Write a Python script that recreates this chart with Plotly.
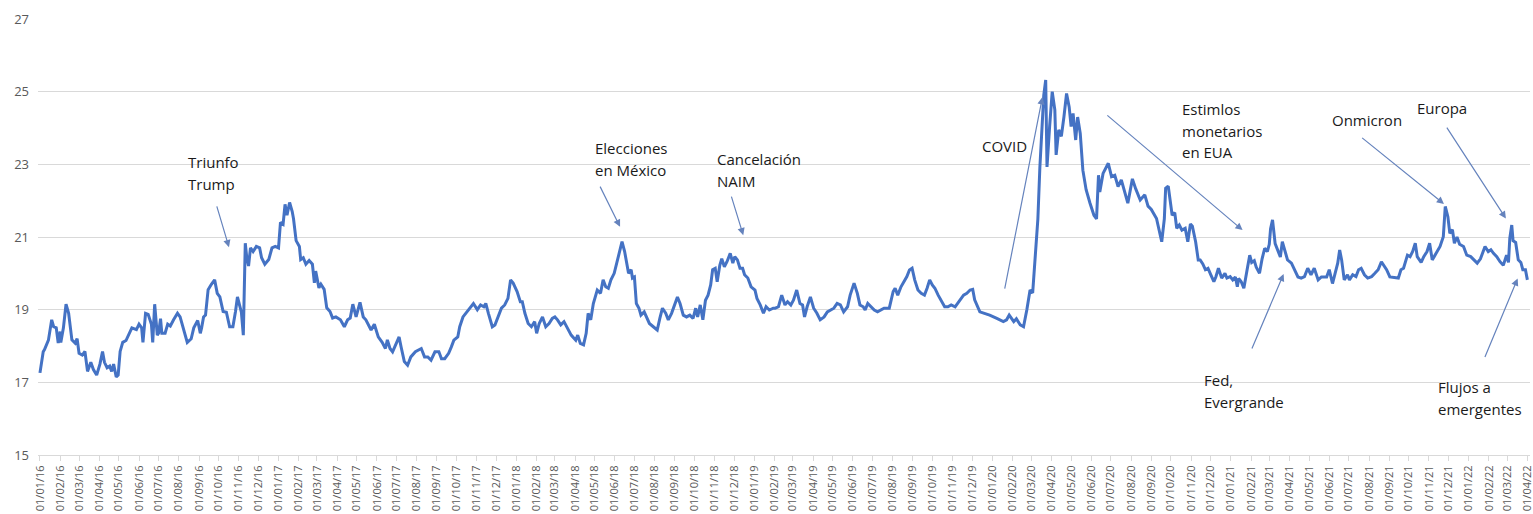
import plotly.graph_objects as go

# ---------------- data (USD/MXN) ----------------
dates = [
    "2016-01-01","2016-01-06","2016-01-08","2016-01-14","2016-01-19","2016-01-22","2016-01-26","2016-01-29",
    "2016-02-01","2016-02-02","2016-02-06","2016-02-10","2016-02-14","2016-02-16","2016-02-19","2016-02-24","2016-02-27",
    "2016-03-01","2016-03-06","2016-03-10","2016-03-14","2016-03-19","2016-03-23","2016-03-28",
    "2016-04-02","2016-04-06","2016-04-09","2016-04-13","2016-04-17","2016-04-20","2016-04-23","2016-04-27","2016-04-30",
    "2016-05-03","2016-05-07","2016-05-12","2016-05-17","2016-05-21","2016-05-28",
    "2016-06-01","2016-06-05","2016-06-07","2016-06-11","2016-06-15","2016-06-20","2016-06-22","2016-06-25","2016-06-29",
    "2016-07-01","2016-07-04","2016-07-06","2016-07-11","2016-07-15","2016-07-19","2016-07-24","2016-07-30",
    "2016-08-03","2016-08-08","2016-08-14","2016-08-20","2016-08-24","2016-08-30",
    "2016-09-03","2016-09-05","2016-09-08","2016-09-11","2016-09-15","2016-09-20","2016-09-25","2016-09-29",
    "2016-10-03","2016-10-08","2016-10-13","2016-10-18","2016-10-23","2016-10-27","2016-10-30",
    "2016-11-05","2016-11-08","2016-11-11","2016-11-13","2016-11-16","2016-11-19","2016-11-23","2016-11-28",
    "2016-12-03","2016-12-06","2016-12-11","2016-12-17","2016-12-22","2016-12-27",
    "2017-01-01","2017-01-04","2017-01-08","2017-01-11","2017-01-14","2017-01-18","2017-01-22","2017-01-24","2017-01-28",
    "2017-02-02","2017-02-04","2017-02-08","2017-02-12","2017-02-17","2017-02-22","2017-02-25","2017-02-27",
    "2017-03-04","2017-03-07","2017-03-12","2017-03-16","2017-03-21","2017-03-25","2017-03-30",
    "2017-04-06","2017-04-12","2017-04-17","2017-04-21","2017-04-25","2017-04-30",
    "2017-05-06","2017-05-11","2017-05-15","2017-05-23","2017-05-28",
    "2017-06-03","2017-06-09","2017-06-14","2017-06-17","2017-06-21","2017-06-25","2017-06-30",
    "2017-07-05","2017-07-08","2017-07-13","2017-07-18","2017-07-23","2017-07-30",
    "2017-08-08","2017-08-13","2017-08-18","2017-08-23","2017-08-29",
    "2017-09-04","2017-09-08","2017-09-13","2017-09-19","2017-09-23","2017-09-27",
    "2017-10-03","2017-10-06","2017-10-11","2017-10-17","2017-10-22","2017-10-27",
    "2017-11-02","2017-11-07","2017-11-12","2017-11-15","2017-11-19","2017-11-25","2017-11-29",
    "2017-12-04","2017-12-09","2017-12-14","2017-12-19","2017-12-23","2017-12-27",
    "2018-01-02","2018-01-07","2018-01-10","2018-01-14","2018-01-19","2018-01-24","2018-01-29",
    "2018-02-01","2018-02-05","2018-02-10","2018-02-15","2018-02-20","2018-02-25",
    "2018-03-01","2018-03-05","2018-03-10","2018-03-15","2018-03-20","2018-03-26",
    "2018-04-02","2018-04-05","2018-04-09","2018-04-14","2018-04-18","2018-04-21","2018-04-25","2018-04-29",
    "2018-05-05","2018-05-10","2018-05-14","2018-05-18","2018-05-22","2018-05-26","2018-05-31",
    "2018-06-06","2018-06-09","2018-06-12","2018-06-16","2018-06-18","2018-06-22","2018-06-26","2018-06-28",
    "2018-07-01","2018-07-04","2018-07-08","2018-07-11","2018-07-16","2018-07-20","2018-07-24","2018-07-30",
    "2018-08-05","2018-08-09","2018-08-13","2018-08-18","2018-08-22","2018-08-27",
    "2018-09-02","2018-09-05","2018-09-09","2018-09-14","2018-09-19","2018-09-24","2018-09-29",
    "2018-10-03","2018-10-06","2018-10-10","2018-10-14","2018-10-18","2018-10-22","2018-10-26","2018-10-29",
    "2018-11-02","2018-11-05","2018-11-09","2018-11-12","2018-11-16","2018-11-20","2018-11-25","2018-11-29",
    "2018-12-02","2018-12-06","2018-12-10","2018-12-14","2018-12-17","2018-12-22","2018-12-27",
    "2019-01-02","2019-01-05","2019-01-10","2019-01-15","2019-01-19","2019-01-24","2019-01-30",
    "2019-02-02","2019-02-07","2019-02-12","2019-02-17","2019-02-21","2019-02-26",
    "2019-03-02","2019-03-07","2019-03-12","2019-03-16","2019-03-19","2019-03-23","2019-03-28",
    "2019-04-02","2019-04-07","2019-04-12","2019-04-18","2019-04-23","2019-04-28",
    "2019-05-03","2019-05-08","2019-05-13","2019-05-18","2019-05-24","2019-05-28",
    "2019-06-03","2019-06-08","2019-06-12","2019-06-17","2019-06-20","2019-06-24","2019-06-29",
    "2019-07-04","2019-07-09","2019-07-14","2019-07-19","2019-07-27",
    "2019-08-02","2019-08-05","2019-08-09","2019-08-14","2019-08-19","2019-08-23","2019-08-27","2019-08-31",
    "2019-09-04","2019-09-09","2019-09-14","2019-09-19","2019-09-23","2019-09-27",
    "2019-10-01","2019-10-05","2019-10-10","2019-10-15","2019-10-20","2019-10-25","2019-10-30",
    "2019-11-05","2019-11-11","2019-11-18","2019-11-23","2019-11-28",
    "2019-12-02","2019-12-05","2019-12-13","2019-12-21","2019-12-28",
    "2020-01-08","2020-01-18","2020-01-23","2020-01-27",
    "2020-02-03","2020-02-07","2020-02-13","2020-02-18","2020-02-23","2020-02-28",
    "2020-03-03","2020-03-06","2020-03-11","2020-03-14","2020-03-18","2020-03-20","2020-03-23","2020-03-25","2020-03-29",
    "2020-04-02","2020-04-06","2020-04-08","2020-04-12","2020-04-16","2020-04-20","2020-04-24","2020-04-28",
    "2020-05-01","2020-05-04","2020-05-08","2020-05-11","2020-05-15","2020-05-19","2020-05-24","2020-05-30",
    "2020-06-05","2020-06-09","2020-06-12","2020-06-14","2020-06-19","2020-06-27",
    "2020-07-02","2020-07-07","2020-07-12","2020-07-17","2020-07-22","2020-07-27",
    "2020-08-03","2020-08-08","2020-08-15","2020-08-22","2020-08-27",
    "2020-09-01","2020-09-09","2020-09-12","2020-09-17","2020-09-21","2020-09-23","2020-09-27","2020-09-30",
    "2020-10-03","2020-10-07","2020-10-10","2020-10-14","2020-10-18","2020-10-23","2020-10-27","2020-10-31",
    "2020-11-03","2020-11-08","2020-11-12","2020-11-15","2020-11-19","2020-11-23","2020-11-27",
    "2020-12-01","2020-12-06","2020-12-09","2020-12-13","2020-12-18","2020-12-23","2020-12-26","2020-12-31",
    "2021-01-04","2021-01-08","2021-01-11","2021-01-13","2021-01-17","2021-01-21","2021-01-26","2021-01-30",
    "2021-02-02","2021-02-06","2021-02-09","2021-02-14","2021-02-18","2021-02-22","2021-02-26",
    "2021-03-01","2021-03-03","2021-03-06","2021-03-10","2021-03-14","2021-03-18","2021-03-21","2021-03-25","2021-03-29",
    "2021-04-04","2021-04-09","2021-04-14","2021-04-19","2021-04-24","2021-04-29",
    "2021-05-04","2021-05-09","2021-05-15","2021-05-20","2021-05-28",
    "2021-06-01","2021-06-06","2021-06-10","2021-06-14","2021-06-17","2021-06-20","2021-06-24","2021-06-29",
    "2021-07-02","2021-07-07","2021-07-12","2021-07-16","2021-07-20","2021-07-25","2021-07-30",
    "2021-08-05","2021-08-10","2021-08-15","2021-08-20","2021-08-24","2021-08-28",
    "2021-09-02","2021-09-10","2021-09-15","2021-09-19","2021-09-23","2021-09-29",
    "2021-10-03","2021-10-07","2021-10-11","2021-10-14","2021-10-20","2021-10-24","2021-10-29",
    "2021-11-02","2021-11-06","2021-11-09","2021-11-13","2021-11-18","2021-11-23","2021-11-26","2021-11-30",
    "2021-12-03","2021-12-07","2021-12-10","2021-12-14","2021-12-18","2021-12-24","2021-12-29",
    "2022-01-04","2022-01-09","2022-01-14","2022-01-19","2022-01-26","2022-01-31",
    "2022-02-04","2022-02-08","2022-02-13","2022-02-18","2022-02-23","2022-02-28",
    "2022-03-03","2022-03-05","2022-03-08","2022-03-10","2022-03-14","2022-03-18","2022-03-22","2022-03-25","2022-03-29",
    "2022-04-01",
]

usd_mxn = [
    17.26,17.84,17.90,18.16,18.72,18.53,18.50,18.08,
    18.40,18.10,18.50,19.15,18.90,18.53,18.17,18.08,18.20,
    17.80,17.75,17.85,17.30,17.55,17.35,17.20,
    17.50,17.85,17.55,17.40,17.45,17.30,17.50,17.15,17.20,
    17.85,18.10,18.15,18.35,18.50,18.45,
    18.60,18.50,18.10,18.90,18.87,18.60,18.10,19.15,18.30,
    18.35,18.75,18.35,18.35,18.60,18.55,18.72,18.90,
    18.80,18.45,18.10,18.20,18.50,18.70,
    18.35,18.50,18.80,18.85,19.55,19.70,19.82,19.45,
    19.35,18.95,18.93,18.53,18.53,18.95,19.35,
    18.93,18.30,20.83,20.48,20.20,20.70,20.60,20.74,
    20.70,20.43,20.25,20.38,20.70,20.74,
    20.70,21.40,21.35,21.90,21.60,21.95,21.70,21.50,20.90,
    20.74,20.38,20.43,20.25,20.35,20.25,19.74,20.06,
    19.60,19.70,19.56,19.05,18.95,18.77,18.80,
    18.72,18.53,18.72,18.77,19.15,18.80,
    19.20,18.80,18.72,18.44,18.60,
    18.25,18.10,17.93,18.17,17.93,17.84,18.07,
    18.25,17.98,17.57,17.47,17.70,17.84,
    17.93,17.70,17.70,17.61,17.84,
    17.84,17.65,17.65,17.80,17.97,18.16,
    18.25,18.53,18.80,18.94,19.08,19.17,
    19.00,19.13,19.08,19.17,18.90,18.53,18.58,
    18.80,19.04,19.13,19.31,19.82,19.73,
    19.50,19.22,19.22,18.90,18.62,18.53,18.67,
    18.35,18.62,18.80,18.53,18.62,18.76,
    18.80,18.72,18.58,18.67,18.49,18.30,
    18.16,18.30,18.07,18.03,18.35,18.90,18.72,19.17,
    19.54,19.45,19.82,19.63,19.59,19.82,20.00,
    20.40,20.60,20.87,20.60,20.40,20.00,20.10,19.87,
    19.90,19.17,19.04,18.85,18.94,18.80,18.62,18.53,
    18.44,18.76,19.04,18.90,18.72,18.90,
    19.17,19.35,19.17,18.85,18.80,18.85,18.76,
    19.04,18.80,19.13,18.72,19.26,19.40,19.68,20.10,
    20.14,19.77,20.22,20.40,20.18,20.32,20.55,20.28,
    20.46,20.37,20.14,20.14,19.96,19.87,19.63,
    19.54,19.31,19.13,18.90,19.08,18.99,19.04,
    19.04,19.08,19.40,19.13,19.22,19.13,
    19.26,19.54,19.17,19.13,18.80,19.08,19.35,
    19.04,18.90,18.72,18.80,18.94,18.99,
    19.04,19.17,19.13,18.94,19.08,19.40,
    19.73,19.45,19.13,19.08,18.99,19.17,19.08,
    18.99,18.94,18.99,19.04,19.04,
    19.50,19.59,19.40,19.63,19.77,19.91,20.09,20.14,
    19.82,19.54,19.45,19.40,19.59,19.82,
    19.68,19.59,19.40,19.22,19.08,19.08,19.13,
    19.08,19.22,19.40,19.45,19.54,
    19.56,19.27,18.94,18.90,18.85,
    18.76,18.67,18.72,18.85,
    18.67,18.75,18.58,18.53,18.99,19.54,
    19.46,20.18,21.50,22.90,24.20,24.90,25.32,22.93,24.04,
    25.00,24.50,23.26,23.95,23.77,24.31,24.95,24.58,
    24.04,24.40,23.67,24.30,23.85,22.84,22.30,21.93,
    21.60,21.50,22.70,22.24,22.75,23.03,
    22.66,22.70,22.39,22.57,22.24,21.93,
    22.60,22.33,22.02,22.16,21.85,
    21.76,21.51,21.24,20.87,21.50,22.34,22.40,22.03,
    21.60,21.67,21.24,21.33,21.19,21.24,20.87,21.36,
    21.30,20.87,20.37,20.37,20.26,20.10,20.14,
    19.97,19.77,19.90,20.14,19.87,20.00,19.87,19.91,
    19.82,19.90,19.63,19.86,19.77,19.59,20.10,20.50,
    20.30,20.35,20.17,20.00,20.40,20.69,20.60,
    20.80,21.23,21.47,20.82,20.65,20.45,20.87,20.60,20.37,
    20.28,20.10,19.90,19.87,19.91,20.14,
    19.96,20.14,19.82,19.90,19.90,
    20.10,19.72,20.00,20.28,20.64,20.37,19.82,19.96,
    19.82,19.96,19.91,20.10,20.14,19.96,19.87,
    19.91,20.00,20.10,20.32,20.22,20.10,
    19.90,19.87,19.87,20.10,20.14,20.50,
    20.46,20.60,20.83,20.46,20.30,20.46,20.60,
    20.83,20.37,20.46,20.60,20.74,21.01,21.84,21.56,
    21.10,21.20,20.83,21.00,20.80,20.74,20.50,
    20.46,20.37,20.28,20.40,20.74,20.60,
    20.65,20.55,20.46,20.32,20.22,20.50,
    20.30,20.96,21.33,20.90,20.85,20.37,20.30,20.10,20.10,
    19.82,
]
assert len(dates) == len(usd_mxn)

y_ticks = [15, 17, 19, 21, 23, 25, 27]

# event labels (text lines) and the point each arrow targets
event_lines = [
    ["Triunfo", "Trump"],
    ["Elecciones", "en México"],
    ["Cancelación", "NAIM"],
    ["COVID"],
    ["Estimlos", "monetarios", "en EUA"],
    ["Onmicron"],
    ["Europa"],
    ["Fed,", "Evergrande"],
    ["Flujos a", "emergentes"],
]
arrow_dates = ["2016-10-17", "2018-06-09", "2018-12-15", "2020-03-18", "2021-01-19",
               "2021-11-24", "2022-02-27", "2021-03-23", "2022-03-17"]
arrow_values = [20.72, 21.28, 21.05, 24.85, 21.19, 21.91, 21.51, 19.98, 19.86]

# ---------------- layout geometry (pixels) ----------------
W, H = 1533, 514
ML, MR, MT, MB = 38, 3, 19, 59
PW, PH = W - ML - MR, H - MT - MB

# text placement: left edge, first line centre (px)
text_pos = [(186, 162), (593, 148), (715, 159), (980, 145.5), (1180, 109),
            (1330, 120), (1415, 108), (1202, 380), (1436, 387)]
# arrow tail offsets relative to head (px)
arrow_tails = [(-12.6, -42.3), (-20.7, -41.7), (-12.3, -40), (-38, 193), (-136.7, -116),
               (-83.3, -67.3), (-60, -92.3), (-32.3, 76), (-33.3, 80)]
LINE_GAP = 21.5

fig = go.Figure()
fig.add_trace(go.Scatter(
    x=dates, y=usd_mxn, mode="lines",
    line=dict(color="#4472C4", width=3),
    showlegend=False, hoverinfo="x+y",
))

annotations = []
for lines, (lx, ly) in zip(event_lines, text_pos):
    for i, t in enumerate(lines):
        cy = ly + i * LINE_GAP
        annotations.append(dict(
            text=t, xref="paper", yref="paper",
            x=(lx - ML) / PW, y=(H - MB - cy) / PH,
            xanchor="left", yanchor="middle", showarrow=False,
            font=dict(family="Open Sans, Liberation Sans, Arial", size=15, color="#1a1a1a"),
        ))
for d, v, (tx, ty) in zip(arrow_dates, arrow_values, arrow_tails):
    annotations.append(dict(
        text="", x=d, y=v, xref="x", yref="y", ax=tx, ay=ty,
        showarrow=True, arrowhead=2, arrowsize=1.2, arrowwidth=1.2,
        arrowcolor="#6583bd", standoff=0, startstandoff=0,
    ))

fig.update_layout(
    width=W, height=H,
    margin=dict(l=ML, r=MR, t=MT, b=MB, autoexpand=False),
    paper_bgcolor="white", plot_bgcolor="white",
    font=dict(family="Open Sans, Liberation Sans, Arial", color="#595959"),
    annotations=annotations,
    xaxis=dict(
        type="date", range=["2015-12-29", "2022-04-05"],
        tickmode="linear", tick0="2016-01-01", dtick="M1", tickformat="%d/%m/%y",
        tickangle=-90, tickfont=dict(size=11, color="#595959"),
        ticklabeloverflow="allow", automargin=False,
        showgrid=False, showline=True, linecolor="#d9d9d9", linewidth=1,
        ticks="outside", ticklen=5, tickcolor="#d9d9d9", zeroline=False,
    ),
    yaxis=dict(
        range=[15, 27], tickmode="array", tickvals=y_ticks,
        tickfont=dict(size=13, color="#595959"), automargin=False,
        showgrid=True, gridcolor="#d9d9d9", gridwidth=1,
        zeroline=False, showline=False, ticks="", ticklabelstandoff=8,
    ),
)

fig.write_html("out.html")
